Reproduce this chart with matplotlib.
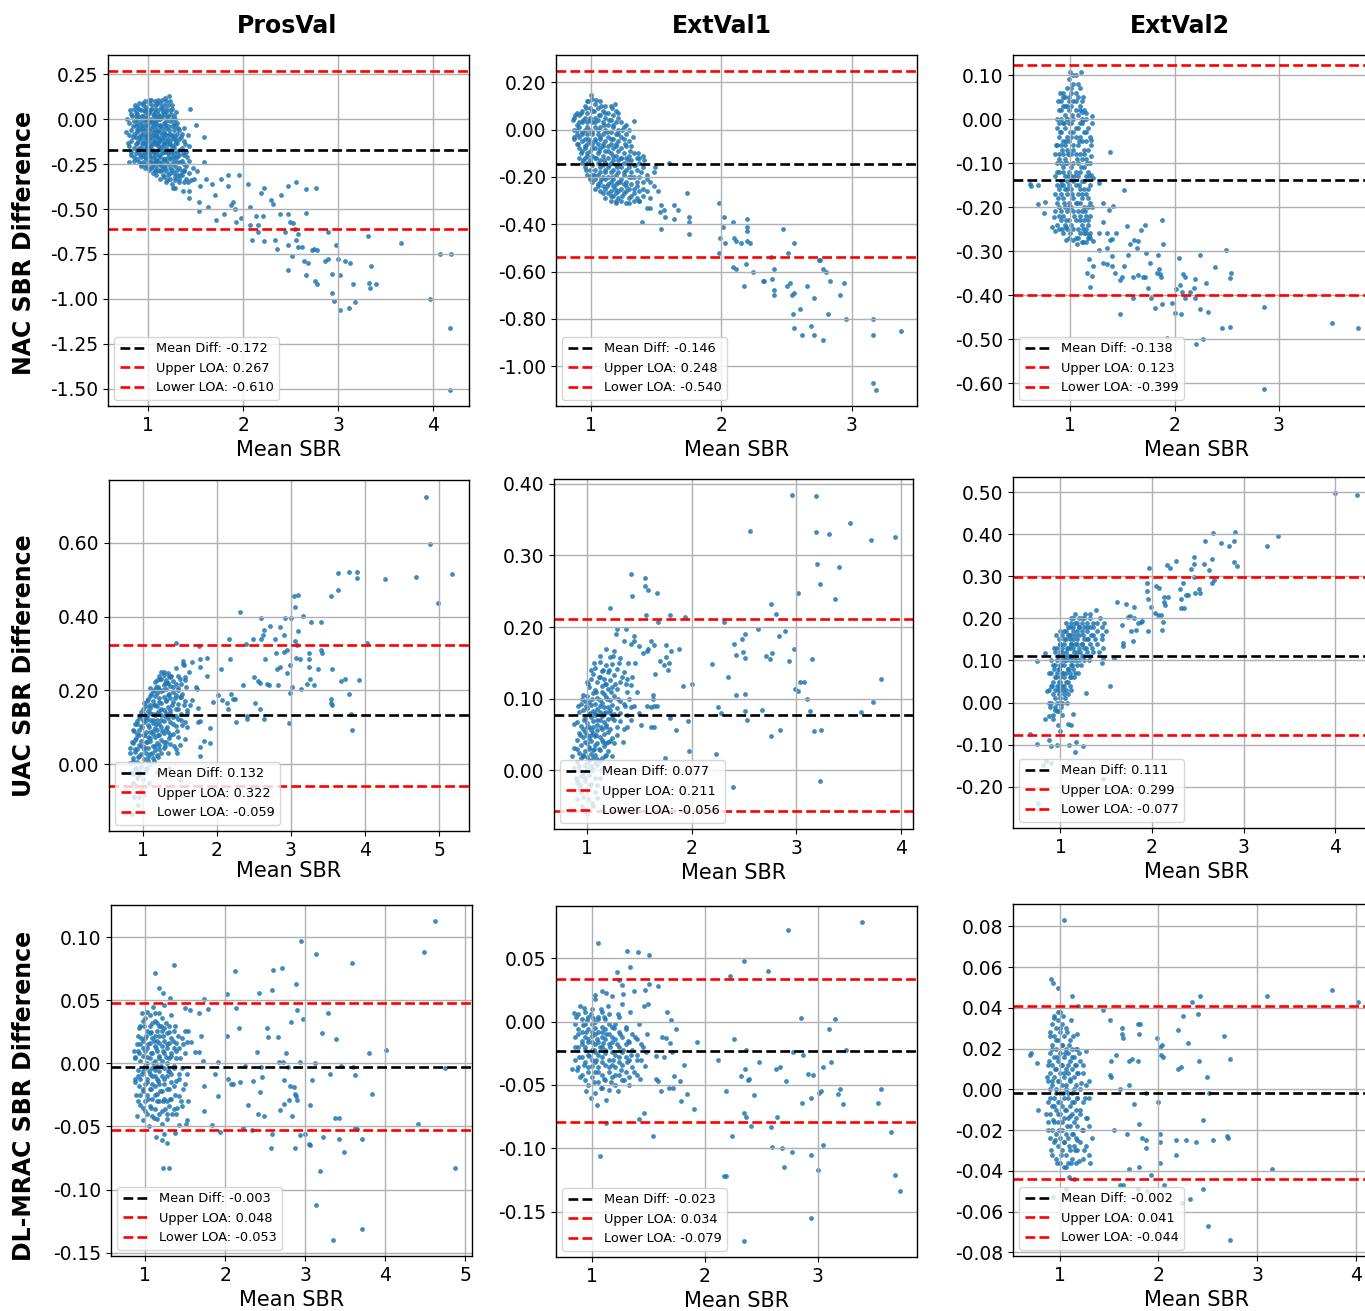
"""
Bland-Altman grid: NAC / UAC / DL-MRAC SBR differences vs mean SBR,
one column per cohort (ProsVal, ExtVal1, ExtVal2).
"""
import matplotlib
matplotlib.use("Agg")
import matplotlib.pyplot as plt
from matplotlib.ticker import FormatStrFormatter

plt.rcParams["axes.unicode_minus"] = False
plt.rcParams["xtick.labelsize"] = 13.5
plt.rcParams["ytick.labelsize"] = 13.5

COLUMNS = ["ProsVal", "ExtVal1", "ExtVal2"]
ROWS = ["NAC SBR Difference", "UAC SBR Difference", "DL-MRAC SBR Difference"]

# (mean diff, upper LOA, lower LOA) per cohort
nac_stats = [(-0.172, 0.267, -0.610), (-0.146, 0.248, -0.540), (-0.138, 0.123, -0.399)]
uac_stats = [(0.132, 0.322, -0.059), (0.077, 0.211, -0.056), (0.111, 0.299, -0.077)]
dl_stats = [(-0.003, 0.048, -0.053), (-0.023, 0.034, -0.079), (-0.002, 0.041, -0.044)]

# dense clusters near SBR ~1, read column by column: (mean SBR, [differences])
nac_prosval_core = [
    (0.80, [-0.02, -0.09, -0.15]), (0.82, [0.03, -0.06, -0.12, -0.20]),
    (0.845, [0.06, -0.01, -0.08, -0.16, -0.23]), (0.865, [0.02, -0.04, -0.10, -0.14, -0.19]),
    (0.885, [0.07, 0.03, -0.02, -0.07, -0.13, -0.17, -0.22]), (0.905, [0.09, 0.01, -0.05, -0.10, -0.18, -0.24]),
    (0.925, [0.05, -0.01, -0.06, -0.11, -0.16, -0.21, -0.26]), (0.945, [0.08, 0.02, -0.03, -0.08, -0.13, -0.20, -0.24]),
    (0.965, [0.10, 0.04, -0.01, -0.06, -0.12, -0.16, -0.21, -0.25]), (0.985, [0.06, 0.01, -0.04, -0.10, -0.15, -0.19, -0.26]),
    (1.005, [0.09, 0.04, -0.02, -0.08, -0.11, -0.16, -0.20, -0.24, -0.28]),
    (1.025, [0.11, 0.06, 0.0, -0.05, -0.10, -0.15, -0.18, -0.23, -0.27]),
    (1.045, [0.03, -0.02, -0.07, -0.12, -0.17, -0.21, -0.25, -0.30]),
    (1.065, [0.10, 0.04, -0.01, -0.06, -0.10, -0.14, -0.20, -0.24, -0.28]),
    (1.085, [0.08, 0.01, -0.04, -0.09, -0.13, -0.18, -0.22, -0.26, -0.31]),
    (1.105, [0.11, 0.05, 0.0, -0.06, -0.10, -0.13, -0.17, -0.23, -0.28]),
    (1.125, [0.09, 0.02, -0.03, -0.07, -0.12, -0.16, -0.21, -0.25, -0.29, -0.33]),
    (1.145, [0.11, 0.06, 0.01, -0.05, -0.11, -0.15, -0.19, -0.24, -0.28]),
    (1.165, [0.08, 0.03, -0.02, -0.07, -0.10, -0.14, -0.18, -0.22, -0.26, -0.32]),
    (1.185, [0.10, 0.04, -0.01, -0.05, -0.12, -0.18, -0.23, -0.29, -0.35]),
    (1.205, [0.08, 0.02, -0.04, -0.09, -0.14, -0.19, -0.25, -0.31]),
    (1.225, [0.10, 0.05, -0.01, -0.08, -0.12, -0.17, -0.22, -0.27, -0.33]),
    (1.245, [0.06, 0.0, -0.04, -0.10, -0.15, -0.21, -0.28, -0.36]),
    (1.265, [0.02, -0.06, -0.11, -0.19, -0.23, -0.30]), (1.285, [0.0, -0.04, -0.10, -0.14, -0.21, -0.26, -0.34]),
    (1.305, [-0.02, -0.08, -0.13, -0.18, -0.24, -0.31]), (1.325, [-0.06, -0.11, -0.20, -0.27, -0.33]),
    (1.35, [-0.08, -0.16, -0.23, -0.31]), (1.375, [-0.12, -0.20, -0.28, -0.35]), (1.40, [-0.18, -0.26]),
    (1.43, [-0.15, -0.23, -0.30]),
]
nac_extval1_core = [
    (0.87, [0.05, 0.0, -0.04]), (0.89, [0.07, 0.02, -0.02, -0.06]), (0.91, [0.06, 0.01, -0.03, -0.08, -0.12]),
    (0.93, [0.08, 0.03, -0.01, -0.05, -0.09, -0.14]), (0.95, [0.10, 0.05, 0.0, -0.04, -0.08, -0.12, -0.16]),
    (0.97, [0.12, 0.07, 0.03, -0.02, -0.06, -0.10, -0.14, -0.19]),
    (0.99, [0.09, 0.04, 0.0, -0.05, -0.09, -0.13, -0.17, -0.20]),
    (1.01, [0.13, 0.08, 0.03, -0.02, -0.06, -0.11, -0.15, -0.19, -0.22]),
    (1.03, [0.11, 0.05, 0.01, -0.04, -0.08, -0.12, -0.17, -0.21, -0.25]),
    (1.05, [0.09, 0.04, -0.02, -0.06, -0.10, -0.14, -0.19, -0.23]),
    (1.07, [0.12, 0.06, 0.01, -0.04, -0.08, -0.13, -0.18, -0.22, -0.26]),
    (1.09, [0.08, 0.03, -0.02, -0.07, -0.11, -0.15, -0.20, -0.24]),
    (1.11, [0.10, 0.05, 0.0, -0.05, -0.09, -0.14, -0.17, -0.21, -0.25, -0.29]),
    (1.13, [0.07, 0.02, -0.03, -0.07, -0.12, -0.16, -0.20, -0.23, -0.27]),
    (1.15, [0.10, 0.04, -0.01, -0.06, -0.10, -0.14, -0.18, -0.22, -0.26, -0.30]),
    (1.17, [0.06, 0.02, -0.04, -0.08, -0.13, -0.17, -0.21, -0.24, -0.28]),
    (1.19, [0.08, 0.03, -0.02, -0.06, -0.11, -0.15, -0.19, -0.23, -0.27, -0.30]),
    (1.21, [0.05, 0.0, -0.05, -0.09, -0.13, -0.18, -0.22, -0.26, -0.29]),
    (1.23, [0.03, -0.03, -0.08, -0.12, -0.16, -0.21, -0.25, -0.30]),
    (1.25, [0.01, -0.04, -0.10, -0.14, -0.19, -0.23, -0.27]),
    (1.27, [-0.02, -0.07, -0.12, -0.17, -0.22, -0.26, -0.31]),
    (1.29, [0.0, -0.05, -0.11, -0.16, -0.20, -0.25, -0.29]), (1.31, [-0.07, -0.13, -0.18, -0.23, -0.28]),
    (1.33, [-0.10, -0.15, -0.20, -0.25, -0.30]), (1.35, [-0.12, -0.17, -0.24, -0.29]),
    (1.37, [-0.14, -0.20, -0.26]), (1.40, [-0.16, -0.22, -0.28]), (1.43, [-0.19, -0.26]),
]
nac_extval2_core = [
    (0.85, [-0.08, -0.13, -0.17, -0.21]), (0.87, [-0.02, -0.06, -0.10, -0.15, -0.19, -0.24]),
    (0.89, [0.02, -0.01, -0.04, -0.08, -0.12, -0.16, -0.20, -0.25]),
    (0.91, [0.04, 0.0, -0.03, -0.06, -0.10, -0.14, -0.17, -0.21, -0.23]),
    (0.93, [0.06, 0.03, -0.01, -0.05, -0.08, -0.11, -0.15, -0.18, -0.22, -0.26]),
    (0.95, [0.05, 0.01, -0.02, -0.06, -0.09, -0.13, -0.16, -0.20, -0.24]),
    (0.97, [0.07, 0.03, 0.0, -0.04, -0.07, -0.10, -0.14, -0.17, -0.21, -0.25]),
    (0.99, [0.09, 0.05, 0.02, -0.01, -0.05, -0.08, -0.12, -0.15, -0.19, -0.23, -0.27]),
    (1.01, [0.06, 0.03, -0.01, -0.04, -0.08, -0.13, -0.16, -0.20, -0.24]),
    (1.03, [0.08, 0.04, 0.0, -0.03, -0.07, -0.10, -0.14, -0.18, -0.21, -0.25]),
    (1.05, [0.10, 0.06, 0.02, -0.04, -0.08, -0.12, -0.15, -0.19, -0.23, -0.27]),
    (1.07, [0.05, 0.01, -0.02, -0.06, -0.10, -0.13, -0.17, -0.21, -0.25]),
    (1.09, [0.07, 0.03, -0.01, -0.04, -0.08, -0.12, -0.16, -0.19, -0.22, -0.26]),
    (1.11, [0.04, 0.0, -0.05, -0.09, -0.14, -0.17, -0.21, -0.24, -0.28]),
    (1.13, [0.02, -0.03, -0.08, -0.11, -0.16, -0.20, -0.23, -0.26]),
    (1.15, [0.0, -0.05, -0.09, -0.13, -0.17, -0.22, -0.25, -0.28]),
    (1.17, [-0.02, -0.07, -0.12, -0.16, -0.20, -0.24, -0.27]),
    (1.19, [-0.04, -0.10, -0.15, -0.19, -0.22, -0.26]),
]
uac_prosval_core = [
    (0.83, [0.004, 0.043]), (0.86, [-0.027, 0.018, 0.057, 0.092]), (0.89, [-0.012, 0.034, 0.066, 0.108]),
    (0.92, [-0.038, 0.006, 0.041, 0.083, 0.117]), (0.95, [-0.019, 0.022, 0.053, 0.094, 0.126]),
    (0.98, [-0.007, 0.028, 0.064, 0.103, 0.141]), (1.01, [0.013, 0.047, 0.078, 0.114, 0.137, 0.166]),
    (1.04, [-0.014, 0.031, 0.059, 0.087, 0.128, 0.158]), (1.07, [0.009, 0.044, 0.073, 0.106, 0.143, 0.176]),
    (1.10, [0.027, 0.062, 0.088, 0.119, 0.153, 0.184, 0.207]),
    (1.13, [0.016, 0.049, 0.083, 0.112, 0.136, 0.172, 0.198]),
    (1.16, [0.038, 0.074, 0.097, 0.133, 0.161, 0.186, 0.224]),
    (1.19, [0.024, 0.057, 0.093, 0.121, 0.157, 0.193, 0.228]),
    (1.22, [0.052, 0.079, 0.108, 0.144, 0.169, 0.203, 0.238]),
    (1.25, [0.066, 0.102, 0.134, 0.166, 0.197, 0.232]),
    (1.28, [0.043, 0.084, 0.117, 0.148, 0.182, 0.214, 0.243]),
    (1.31, [0.061, 0.096, 0.139, 0.173, 0.204, 0.227]), (1.34, [0.087, 0.124, 0.156, 0.188, 0.219, 0.248]),
    (1.37, [0.054, 0.113, 0.147, 0.179, 0.212, 0.236]), (1.40, [0.082, 0.128, 0.168, 0.196, 0.226]),
    (1.44, [0.103, 0.149, 0.187, 0.218]), (1.48, [0.074, 0.122, 0.164, 0.207, 0.239]),
    (1.52, [0.137, 0.182, 0.216]), (1.57, [0.114, 0.171, 0.236]),
]
uac_extval1_core = [
    (0.88, [0.004, 0.031]), (0.90, [-0.017, 0.012, 0.043, 0.068]), (0.92, [-0.026, 0.006, 0.024, 0.053, 0.081]),
    (0.94, [-0.008, 0.017, 0.036, 0.062, 0.093]), (0.96, [-0.037, -0.004, 0.021, 0.047, 0.058, 0.084, 0.106]),
    (0.98, [-0.015, 0.008, 0.027, 0.054, 0.073, 0.097]),
    (1.00, [-0.028, 0.003, 0.019, 0.038, 0.049, 0.066, 0.087, 0.104, 0.123]),
    (1.02, [-0.006, 0.014, 0.033, 0.045, 0.061, 0.079, 0.095, 0.116]),
    (1.04, [-0.019, 0.006, 0.023, 0.041, 0.057, 0.074, 0.091, 0.127]),
    (1.06, [0.002, 0.017, 0.029, 0.052, 0.069, 0.083, 0.108, 0.134]),
    (1.08, [-0.011, 0.021, 0.036, 0.048, 0.077, 0.093, 0.112, 0.143]),
    (1.10, [0.007, 0.016, 0.039, 0.056, 0.064, 0.086, 0.101, 0.124]),
    (1.12, [0.013, 0.028, 0.047, 0.071, 0.082, 0.098, 0.131, 0.152]),
    (1.14, [0.018, 0.043, 0.058, 0.076, 0.094, 0.118, 0.139]),
    (1.16, [0.004, 0.034, 0.051, 0.067, 0.088, 0.107, 0.128]),
    (1.18, [0.022, 0.038, 0.063, 0.081, 0.103, 0.121, 0.147]),
    (1.20, [0.027, 0.054, 0.072, 0.089, 0.114, 0.137]), (1.22, [0.041, 0.058, 0.084, 0.099, 0.126, 0.158]),
    (1.24, [0.046, 0.073, 0.092, 0.117, 0.148]), (1.26, [0.038, 0.079, 0.104, 0.133, 0.166]),
    (1.29, [0.061, 0.087, 0.113, 0.142]), (1.32, [0.069, 0.097, 0.124, 0.157]),
    (1.35, [0.058, 0.093, 0.138]), (1.38, [0.078, 0.109, 0.127]), (1.42, [0.088, 0.119]),
]
uac_extval2_core = [
    (0.90, [0.0, 0.04, 0.07]), (0.92, [-0.03, 0.02, 0.05, 0.09]), (0.94, [-0.01, 0.03, 0.06, 0.09, 0.12]),
    (0.96, [0.0, 0.04, 0.07, 0.10, 0.13]), (0.98, [-0.02, 0.02, 0.05, 0.08, 0.11, 0.15]),
    (1.00, [0.01, 0.03, 0.06, 0.09, 0.12, 0.14]), (1.02, [0.0, 0.04, 0.07, 0.10, 0.13, 0.16]),
    (1.04, [0.02, 0.06, 0.09, 0.11, 0.14, 0.17]), (1.06, [0.03, 0.07, 0.10, 0.12, 0.15, 0.17]),
    (1.08, [0.05, 0.08, 0.11, 0.13, 0.16, 0.18]), (1.10, [0.04, 0.07, 0.10, 0.13, 0.15, 0.18]),
    (1.12, [0.06, 0.09, 0.11, 0.14, 0.16, 0.19]), (1.14, [0.08, 0.10, 0.13, 0.15, 0.18, 0.20]),
    (1.16, [0.07, 0.11, 0.14, 0.16, 0.19]), (1.18, [0.09, 0.12, 0.14, 0.17, 0.19]),
    (1.20, [0.10, 0.13, 0.16, 0.18, 0.20]), (1.23, [0.11, 0.14, 0.17, 0.19]),
    (1.26, [0.10, 0.13, 0.15, 0.18, 0.20]), (1.29, [0.12, 0.15, 0.17, 0.19]),
    (1.32, [0.11, 0.14, 0.18, 0.21]), (1.36, [0.12, 0.16, 0.18]), (1.40, [0.14, 0.19]), (1.45, [0.15, 0.18]),
]
dl_prosval_core = [
    (0.88, [-0.015, 0.005]), (0.91, [-0.030, -0.010, 0.010, 0.022]),
    (0.94, [-0.025, -0.012, 0.002, 0.015, 0.030]), (0.97, [-0.035, -0.020, -0.006, 0.006, 0.018, 0.034]),
    (1.00, [-0.030, -0.016, -0.004, 0.010, 0.020, 0.036]), (1.03, [-0.040, -0.025, -0.012, 0.000, 0.012, 0.026]),
    (1.06, [-0.034, -0.020, -0.008, 0.004, 0.016, 0.024, 0.038]),
    (1.09, [-0.042, -0.028, -0.016, -0.004, 0.008, 0.020, 0.032]),
    (1.12, [-0.036, -0.018, -0.010, 0.002, 0.014, 0.022, 0.040]),
    (1.15, [-0.044, -0.024, -0.012, -0.002, 0.010, 0.018, 0.032]),
    (1.18, [-0.030, -0.016, -0.006, 0.006, 0.022, 0.030]),
    (1.21, [-0.038, -0.022, -0.010, 0.002, 0.014, 0.026, 0.036]),
    (1.24, [-0.028, -0.016, -0.004, 0.008, 0.018, 0.028]), (1.27, [-0.040, -0.030, -0.010, 0.000, 0.012, 0.024]),
    (1.30, [-0.034, -0.020, -0.006, 0.004, 0.016, 0.030]), (1.33, [-0.028, -0.008, 0.006, 0.020]),
    (1.36, [-0.036, -0.018, -0.002, 0.012, 0.026]), (1.39, [-0.040, -0.014, 0.004, 0.016]),
    (1.42, [-0.026, -0.008, 0.012]), (1.46, [-0.034, -0.004, 0.020]), (1.50, [-0.016, 0.008]),
]
dl_extval1_core = [
    (0.85, [-0.030, -0.012, -0.002]), (0.88, [-0.036, -0.020, -0.006, 0.006]),
    (0.91, [-0.042, -0.028, -0.018, -0.008, 0.002]), (0.94, [-0.046, -0.032, -0.020, -0.012, -0.002, 0.008]),
    (0.97, [-0.050, -0.036, -0.026, -0.014, -0.006, 0.004]),
    (1.00, [-0.044, -0.030, -0.022, -0.016, -0.008, -0.002, 0.010]),
    (1.03, [-0.056, -0.040, -0.032, -0.024, -0.018, -0.010, 0.000]),
    (1.06, [-0.048, -0.036, -0.026, -0.016, -0.008, 0.004]),
    (1.09, [-0.052, -0.042, -0.028, -0.020, -0.012, -0.004, 0.008]),
    (1.12, [-0.046, -0.034, -0.022, -0.014, -0.006, 0.002]),
    (1.15, [-0.054, -0.040, -0.030, -0.018, -0.010, 0.006]),
    (1.18, [-0.044, -0.034, -0.024, -0.016, -0.004]), (1.21, [-0.050, -0.036, -0.026, -0.014, -0.002]),
    (1.24, [-0.042, -0.032, -0.020, -0.008, 0.004]), (1.27, [-0.046, -0.034, -0.024, -0.012]),
    (1.30, [-0.040, -0.028, -0.018, -0.006]), (1.33, [-0.044, -0.030, -0.016]),
    (1.36, [-0.036, -0.022, -0.010]), (1.40, [-0.042, -0.026, -0.014]), (1.44, [-0.030, -0.018]),
    (1.48, [-0.024]),
]
dl_extval2_core = [
    (0.88, [-0.016, -0.006, 0.004, 0.012]), (0.90, [-0.024, -0.012, 0.000, 0.008, 0.018, 0.026]),
    (0.92, [-0.032, -0.020, -0.008, 0.004, 0.012, 0.022, 0.032]),
    (0.94, [-0.026, -0.016, -0.004, 0.006, 0.016, 0.026, 0.036]),
    (0.96, [-0.034, -0.022, -0.010, 0.000, 0.010, 0.020, 0.030]),
    (0.98, [-0.028, -0.016, -0.006, 0.004, 0.014, 0.024, 0.034]),
    (1.00, [-0.036, -0.024, -0.012, -0.002, 0.008, 0.018, 0.028, 0.038]),
    (1.02, [-0.030, -0.020, -0.008, 0.002, 0.012, 0.022, 0.032]),
    (1.04, [-0.038, -0.026, -0.014, -0.004, 0.006, 0.016, 0.026]),
    (1.06, [-0.032, -0.022, -0.010, 0.000, 0.010, 0.020, 0.030]),
    (1.08, [-0.036, -0.024, -0.014, -0.002, 0.008, 0.018]),
    (1.10, [-0.030, -0.018, -0.008, 0.004, 0.014, 0.024]),
    (1.12, [-0.034, -0.022, -0.012, -0.002, 0.010, 0.020]), (1.14, [-0.028, -0.016, -0.006, 0.006, 0.016]),
    (1.16, [-0.036, -0.024, -0.010, 0.002, 0.012]), (1.18, [-0.030, -0.018, -0.004, 0.008, 0.020]),
    (1.21, [-0.026, -0.012, 0.000, 0.014]), (1.24, [-0.034, -0.020, -0.006, 0.008]),
    (1.27, [-0.028, -0.014, 0.002]), (1.30, [-0.032, -0.018, -0.004]),
]

# individual (mean SBR, difference) points
nac_prosval = [
    (0.76, -0.07), (0.78, 0.0), (0.79, -0.13), (0.80, -0.24), (0.81, 0.05), (0.82, -0.18), (0.83, 0.02),
    (0.84, -0.04), (0.84, -0.10), (0.85, -0.21), (0.86, 0.08), (0.87, 0.04), (0.88, 0.0), (0.88, -0.06),
    (0.89, -0.12), (0.90, -0.16), (0.90, 0.06), (0.91, -0.03), (0.91, -0.20), (0.92, -0.09), (0.92, -0.25),
    (0.93, 0.02), (0.93, -0.14), (0.94, 0.09), (0.94, -0.05), (0.95, -0.18), (0.95, 0.05), (0.96, -0.10),
    (0.96, -0.27), (0.97, 0.0), (0.97, -0.14), (0.98, 0.07), (0.98, -0.22), (0.99, -0.03), (0.99, -0.08),
    (1.0, 0.03), (1.0, -0.17), (1.0, -0.12), (1.01, 0.11), (1.01, -0.06), (1.02, -0.21), (1.02, 0.05),
    (1.03, -0.01), (1.03, -0.14), (1.04, 0.08), (1.04, -0.26), (1.05, -0.09), (1.05, -0.04), (1.06, 0.02),
    (1.06, -0.18), (1.07, -0.12), (1.07, 0.06), (1.08, -0.23), (1.08, -0.02), (1.08, -0.29), (1.09, 0.09),
    (1.09, -0.07), (1.10, -0.15), (1.10, 0.03), (1.11, -0.20), (1.11, -0.11), (1.12, 0.0), (1.12, -0.04),
    (1.13, -0.26), (1.13, 0.07), (1.14, -0.17), (1.14, -0.09), (1.15, -0.31), (1.15, 0.04), (1.16, -0.13),
    (1.16, -0.22), (1.17, 0.12), (1.17, -0.03), (1.18, -0.08), (1.18, -0.27), (1.19, 0.06), (1.19, -0.16),
    (1.20, -0.34), (1.20, 0.01), (1.21, -0.11), (1.21, -0.21), (1.22, 0.13), (1.22, -0.06), (1.23, -0.30),
    (1.23, -0.14), (1.24, 0.03), (1.24, -0.19), (1.25, 0.08), (1.25, -0.25), (1.26, -0.09), (1.26, -0.38),
    (1.27, -0.02), (1.27, -0.16), (1.28, -0.32), (1.29, -0.12), (1.29, 0.04), (1.30, -0.21), (1.30, -0.28),
    (1.31, -0.05), (1.32, -0.35), (1.32, -0.17), (1.33, -0.24), (1.34, -0.10), (1.35, -0.29), (1.36, -0.19),
    (1.37, -0.05), (1.38, -0.25), (1.39, -0.14), (1.40, -0.33), (1.41, -0.21), (1.42, -0.09), (1.33, -0.31),
    (1.38, -0.29), (1.28, -0.38), (1.36, -0.40), (1.42, -0.35), (1.48, -0.33), (1.47, -0.27),
    (1.435, 0.06), (1.505, -0.03), (1.59, -0.10), (1.59, -0.24), (1.51, -0.29), (1.45, -0.34), (1.61, -0.33),
    (1.54, -0.37), (1.43, -0.40), (1.43, -0.44), (1.53, -0.46), (1.53, -0.51), (1.63, -0.49), (1.67, -0.36),
    (1.70, -0.42), (1.76, -0.33), (1.71, -0.56), (1.80, -0.53), (1.84, -0.31), (1.84, -0.37), (1.87, -0.48),
    (1.89, -0.46), (1.91, -0.50), (1.92, -0.57), (1.95, -0.31), (1.98, -0.55), (2.05, -0.36), (2.07, -0.49),
    (2.07, -0.59), (2.09, -0.67), (2.13, -0.54), (2.15, -0.59), (2.15, -0.63), (2.19, -0.41), (2.21, -0.54),
    (2.22, -0.38), (2.22, -0.68), (2.29, -0.45), (2.31, -0.47), (2.33, -0.67), (2.35, -0.72), (2.40, -0.42),
    (2.39, -0.53), (2.44, -0.63), (2.47, -0.37), (2.47, -0.53), (2.47, -0.70), (2.49, -0.57), (2.51, -0.76),
    (2.52, -0.58), (2.54, -0.61), (2.55, -0.35), (2.55, -0.67), (2.57, -0.71), (2.58, -0.64), (2.62, -0.71),
    (2.64, -0.79), (2.66, -0.39), (2.66, -0.52), (2.66, -0.87), (2.68, -0.80), (2.72, -0.73), (2.74, -0.72),
    (2.75, -0.90), (2.76, -0.38), (2.77, -0.73), (2.77, -0.92), (2.47, -0.84), (2.86, -0.79), (2.89, -0.78),
    (2.89, -0.63), (2.93, -0.97), (2.93, -0.86), (2.95, -1.01), (2.97, -0.70), (3.00, -0.78), (3.02, -0.87),
    (3.02, -1.06), (3.07, -0.79), (3.11, -1.05), (3.12, -0.80), (3.15, -0.92), (3.18, -1.02), (3.31, -0.65),
    (3.32, -0.91), (3.33, -0.94), (3.34, -0.82), (3.40, -0.92), (3.66, -0.69), (3.96, -1.00), (4.07, -0.75),
    (4.19, -0.75), (4.18, -1.16), (4.17, -1.51),
]
nac_extval1 = [
    (0.86, 0.04), (0.87, -0.03), (0.88, 0.06), (0.89, 0.0), (0.90, -0.06), (0.91, 0.03), (0.92, -0.10),
    (0.92, 0.07), (0.93, -0.02), (0.94, -0.13), (0.94, 0.04), (0.95, -0.07), (0.96, 0.09), (0.96, -0.17),
    (0.97, 0.01), (0.97, -0.11), (0.98, 0.12), (0.98, -0.04), (0.99, -0.21), (0.99, 0.05), (1.00, -0.14),
    (1.00, 0.146), (1.01, -0.01), (1.01, -0.08), (1.02, 0.08), (1.02, -0.19), (1.03, -0.05), (1.03, 0.03),
    (1.04, 0.125), (1.04, -0.12), (1.05, -0.24), (1.05, 0.0), (1.06, -0.09), (1.06, 0.06), (1.07, -0.16),
    (1.07, -0.03), (1.08, 0.10), (1.08, -0.21), (1.09, -0.27), (1.09, -0.06), (1.10, 0.02), (1.10, -0.13),
    (1.11, 0.07), (1.11, -0.18), (1.12, -0.01), (1.12, -0.24), (1.13, -0.09), (1.14, 0.04), (1.14, -0.15),
    (1.15, -0.28), (1.15, -0.04), (1.16, 0.09), (1.16, -0.20), (1.17, -0.11), (1.17, 0.01), (1.18, 0.11),
    (1.18, -0.25), (1.19, -0.07), (1.19, -0.31), (1.20, -0.16), (1.21, 0.07), (1.21, -0.02), (1.22, -0.22),
    (1.23, -0.12), (1.24, 0.0), (1.24, -0.28), (1.25, -0.18), (1.26, -0.06), (1.27, 0.02), (1.27, -0.24),
    (1.28, -0.13), (1.29, -0.31), (1.30, -0.09), (1.31, -0.20), (1.32, -0.03), (1.33, -0.27), (1.33, 0.035),
    (1.34, -0.15), (1.35, -0.22), (1.36, -0.10), (1.37, -0.30), (1.38, -0.18), (1.40, -0.25), (1.41, -0.13),
    (1.43, -0.21), (1.45, -0.29), (1.39, -0.39), (1.37, -0.12), (1.40, -0.11), (1.48, -0.18), (1.49, -0.16),
    (1.45, -0.22), (1.48, -0.24), (1.51, -0.26), (1.60, -0.14), (1.54, -0.32), (1.56, -0.34), (1.53, -0.35),
    (1.57, -0.37), (1.54, -0.42), (1.64, -0.32), (1.64, -0.38), (1.67, -0.34), (1.74, -0.27), (1.75, -0.37),
    (1.75, -0.39), (1.75, -0.44), (1.43, -0.33), (1.45, -0.33), (1.37, -0.30), (1.98, -0.31), (1.99, -0.46),
    (1.98, -0.52), (2.02, -0.37), (2.01, -0.41), (2.03, -0.48), (2.09, -0.39), (2.10, -0.46), (2.11, -0.47),
    (2.09, -0.58), (2.11, -0.59), (2.15, -0.48), (2.17, -0.66), (2.19, -0.57), (2.20, -0.38), (2.20, -0.41),
    (2.20, -0.43), (2.20, -0.47), (2.22, -0.48), (2.24, -0.60), (2.32, -0.64), (2.33, -0.64), (2.38, -0.54),
    (2.39, -0.63), (2.40, -0.59), (2.40, -0.68), (2.40, -0.70), (2.47, -0.42), (2.50, -0.66), (2.51, -0.52),
    (2.53, -0.65), (2.54, -0.70), (2.55, -0.78), (2.56, -0.69), (2.56, -0.48), (2.56, -0.84), (2.60, -0.76),
    (2.62, -0.87), (2.66, -0.66), (2.69, -0.83), (2.71, -0.71), (2.71, -0.87), (2.75, -0.55), (2.76, -0.55),
    (2.78, -0.59), (2.78, -0.89), (2.80, -0.60), (2.82, -0.78), (2.83, -0.64), (2.91, -0.70), (2.94, -0.65),
    (2.96, -0.80), (3.16, -0.80), (3.16, -0.87), (3.16, -1.07), (3.19, -1.10), (3.38, -0.85),
]
nac_extval2 = [
    (0.86, -0.06), (0.87, -0.12), (0.87, 0.0), (0.88, -0.18), (0.88, 0.04), (0.89, -0.09), (0.89, -0.22),
    (0.90, 0.06), (0.90, -0.03), (0.91, -0.15), (0.91, 0.02), (0.92, -0.25), (0.92, -0.07), (0.93, 0.05),
    (0.93, -0.12), (0.94, -0.19), (0.94, -0.01), (0.95, 0.03), (0.95, -0.10), (0.96, -0.23), (0.96, -0.05),
    (0.97, 0.0), (0.97, -0.16), (0.98, -0.08), (0.98, -0.13), (0.99, 0.04), (0.99, -0.20), (1.0, -0.03),
    (1.0, 0.107), (1.0, -0.26), (1.01, -0.11), (1.01, 0.07), (1.02, -0.17), (1.02, 0.01), (1.03, -0.06),
    (1.03, 0.10), (1.04, -0.22), (1.04, -0.13), (1.05, 0.04), (1.05, -0.02), (1.06, -0.09), (1.06, -0.19),
    (1.07, 0.08), (1.07, -0.27), (1.08, -0.05), (1.08, -0.15), (1.09, 0.02), (1.09, -0.23), (1.10, 0.107),
    (1.10, -0.11), (1.11, -0.01), (1.11, -0.18), (1.12, 0.05), (1.12, -0.25), (1.13, -0.07), (1.13, -0.14),
    (1.14, -0.21), (1.15, -0.03), (1.15, -0.26), (1.16, -0.10), (1.17, -0.18), (1.17, -0.23), (1.18, -0.13),
    (1.19, -0.27), (1.20, -0.06), (1.21, -0.20), (1.11, 0.017), (1.15, 0.014), (1.12, -0.002), (1.21, -0.01),
    (1.20, -0.048), (1.20, -0.085), (1.20, -0.127), (1.22, -0.134), (1.205, 0.008), (1.38, -0.074),
    (0.61, -0.147), (0.62, -0.153), (0.69, -0.151), (0.69, -0.192), (0.75, -0.214), (0.76, -0.189),
    (0.84, -0.223), (0.85, -0.255), (0.82, -0.246), (0.96, -0.274), (0.96, -0.246), (1.03, -0.274),
    (1.06, -0.285), (1.12, -0.28), (1.18, -0.266), (1.22, -0.278), (1.18, -0.319), (1.16, -0.349),
    (1.19, -0.381), (1.22, -0.334), (1.21, -0.357), (1.275, -0.146), (1.31, -0.19), (1.31, -0.234),
    (1.28, -0.298), (1.28, -0.259), (1.31, -0.328), (1.35, -0.293), (1.35, -0.33), (1.37, -0.206),
    (1.41, -0.198), (1.355, -0.259), (1.38, -0.274), (1.40, -0.272), (1.40, -0.334), (1.40, -0.312),
    (1.43, -0.349), (1.44, -0.259), (1.48, -0.444), (1.48, -0.365), (1.50, -0.358), (1.52, -0.161),
    (1.54, -0.244), (1.52, -0.334), (1.55, -0.308), (1.57, -0.283), (1.60, -0.358), (1.60, -0.406),
    (1.61, -0.274), (1.64, -0.293), (1.65, -0.276), (1.65, -0.355), (1.68, -0.251), (1.70, -0.359),
    (1.72, -0.359), (1.72, -0.240), (1.73, -0.304), (1.75, -0.383), (1.76, -0.327), (1.77, -0.406),
    (1.81, -0.429), (1.83, -0.349), (1.84, -0.308), (1.85, -0.341), (1.86, -0.352), (1.87, -0.358),
    (1.88, -0.421), (1.88, -0.229), (1.89, -0.285), (1.93, -0.497), (1.98, -0.417), (2.00, -0.440),
    (2.01, -0.387), (2.04, -0.315), (2.05, -0.378), (2.06, -0.443), (2.07, -0.393), (2.08, -0.352),
    (2.10, -0.358), (2.10, -0.406), (2.15, -0.393), (2.19, -0.383), (2.20, -0.406), (2.20, -0.363),
    (2.21, -0.512), (2.24, -0.431), (2.24, -0.309), (2.27, -0.500), (2.30, -0.373), (2.32, -0.438),
    (2.39, -0.336), (2.46, -0.475), (2.49, -0.298), (2.53, -0.472), (2.53, -0.361), (2.54, -0.349),
    (2.86, -0.427), (2.86, -0.614), (3.51, -0.464), (3.76, -0.474),
]
uac_prosval = [
    (0.82, 0.03), (0.84, -0.02), (0.85, 0.06), (0.86, 0.01), (0.87, -0.05), (0.88, 0.09), (0.89, 0.04),
    (0.90, -0.01), (0.91, 0.07), (0.92, 0.11), (0.93, 0.02), (0.94, -0.03), (0.95, 0.08), (0.96, 0.13),
    (0.97, 0.05), (0.98, 0.0), (0.99, 0.10), (1.0, 0.15), (1.01, 0.04), (1.02, 0.08), (1.03, -0.02),
    (1.04, 0.12), (1.05, 0.06), (1.06, 0.17), (1.07, 0.02), (1.08, 0.10), (1.09, 0.14), (1.10, 0.07),
    (1.11, 0.19), (1.12, 0.03), (1.13, 0.12), (1.14, 0.09), (1.15, 0.16), (1.16, 0.05), (1.17, 0.21),
    (1.18, 0.11), (1.19, 0.14), (1.20, 0.08), (1.21, 0.18), (1.22, 0.04), (1.23, 0.23), (1.24, 0.12),
    (1.25, 0.15), (1.26, 0.09), (1.27, 0.20), (1.28, 0.06), (1.29, 0.25), (1.30, 0.13), (1.31, 0.17),
    (1.32, 0.10), (1.33, 0.22), (1.34, 0.03), (1.35, 0.19), (1.36, 0.14), (1.37, 0.08), (1.38, 0.24),
    (1.39, 0.16), (1.40, 0.11), (1.41, 0.21), (1.42, 0.05), (1.43, 0.18), (1.44, 0.13), (1.45, 0.26),
    (1.46, 0.09), (1.47, 0.20), (1.48, 0.15), (1.50, 0.23), (1.52, 0.12), (1.53, 0.19), (1.55, 0.27),
    (1.56, 0.16), (1.58, 0.21), (1.60, 0.14), (0.90, -0.06), (0.95, -0.09), (1.0, -0.04), (1.05, -0.01),
    (1.10, 0.0), (1.15, 0.01), (0.88, -0.09), (1.08, -0.05), (1.20, 0.02), (1.25, 0.03), (1.30, 0.05),
    (1.35, 0.07), (1.45, 0.04), (1.0, 0.12), (1.05, 0.13), (1.10, 0.16), (1.15, 0.20), (1.20, 0.21),
    (1.25, 0.25), (1.30, 0.22), (1.35, 0.24), (0.97, -0.07), (0.93, -0.11), (1.02, -0.08), (0.85, -0.135),
    (0.94, -0.02), (1.19, -0.02), (1.35, -0.011), (1.50, -0.042), (1.45, 0.329), (1.54, 0.271),
    (1.54, 0.279), (1.66, 0.277), (1.76, 0.32), (1.77, 0.286), (1.77, 0.264), (1.86, 0.288), (1.87, 0.239),
    (1.73, 0.203), (1.75, 0.151), (1.77, 0.118), (1.75, 0.114), (1.77, 0.046), (1.77, 0.021), (1.82, 0.064),
    (1.90, 0.099), (1.91, 0.057), (1.95, 0.169), (2.01, 0.187), (2.05, 0.258), (2.07, 0.174), (2.14, 0.165),
    (2.15, 0.149), (2.16, 0.339), (2.17, 0.286), (2.19, 0.19), (2.21, 0.176), (2.24, 0.176), (2.26, 0.114),
    (2.31, 0.413), (2.35, 0.214), (2.39, 0.327), (2.41, 0.131), (2.41, 0.122), (2.49, 0.339), (2.50, 0.237),
    (2.51, 0.165), (2.56, 0.226), (2.58, 0.221), (2.58, 0.149), (2.59, 0.339), (2.59, 0.395), (2.62, 0.351),
    (2.63, 0.122), (2.63, 0.363), (2.65, 0.286), (2.68, 0.216), (2.70, 0.214), (2.72, 0.375), (2.79, 0.339),
    (2.80, 0.30), (2.81, 0.257), (2.82, 0.214), (2.85, 0.372), (2.85, 0.264), (2.90, 0.35), (2.91, 0.305),
    (2.92, 0.397), (2.94, 0.31), (2.95, 0.248), (2.97, 0.111), (2.98, 0.194), (2.99, 0.268), (3.00, 0.397),
    (3.01, 0.208), (3.04, 0.455), (3.05, 0.334), (3.06, 0.427), (3.08, 0.322), (3.07, 0.288), (3.09, 0.36),
    (3.10, 0.458), (3.12, 0.286), (3.14, 0.205), (3.16, 0.402), (3.21, 0.216), (3.24, 0.264), (3.24, 0.284),
    (3.24, 0.302), (3.25, 0.232), (3.27, 0.386), (3.31, 0.214), (3.36, 0.257), (3.40, 0.386), (3.41, 0.309),
    (3.42, 0.302), (3.55, 0.258), (3.54, 0.455), (3.54, 0.165), (3.55, 0.16), (3.54, 0.176), (3.63, 0.473),
    (3.64, 0.518), (3.67, 0.226), (3.73, 0.231), (3.78, 0.189), (3.79, 0.521), (3.81, 0.135), (3.82, 0.093),
    (3.89, 0.521), (3.89, 0.505), (3.92, 0.228), (4.03, 0.329), (4.27, 0.501), (4.69, 0.507), (4.82, 0.725),
    (4.88, 0.597), (4.98, 0.438), (5.18, 0.514), (1.57, 0.068), (1.60, 0.10), (1.59, 0.147), (1.64, 0.16),
    (1.66, 0.174), (1.71, 0.21), (1.50, 0.052), (1.46, 0.03), (1.53, 0.106), (1.50, 0.183), (1.57, 0.228),
    (1.62, 0.25),
]
uac_extval1 = [
    (0.86, 0.02), (0.88, 0.065), (0.89, -0.01), (0.90, 0.03), (0.91, 0.09), (0.92, 0.0), (0.93, 0.05),
    (0.94, -0.03), (0.95, 0.10), (0.96, 0.02), (0.97, 0.07), (0.98, -0.01), (0.98, 0.04), (0.99, 0.09),
    (1.0, 0.01), (1.0, 0.06), (1.01, 0.12), (1.01, -0.04), (1.02, 0.03), (1.03, 0.08), (1.03, -0.02),
    (1.04, 0.05), (1.04, 0.14), (1.05, 0.0), (1.05, 0.10), (1.06, 0.06), (1.06, -0.05), (1.07, 0.03),
    (1.07, 0.15), (1.08, 0.08), (1.08, 0.01), (1.09, 0.11), (1.09, 0.05), (1.10, -0.02), (1.10, 0.07),
    (1.11, 0.13), (1.11, 0.03), (1.12, 0.09), (1.12, 0.16), (1.13, 0.0), (1.13, 0.06), (1.14, 0.11),
    (1.15, 0.04), (1.15, 0.14), (1.16, 0.08), (1.17, 0.02), (1.17, 0.12), (1.18, 0.06), (1.18, 0.17),
    (1.19, 0.10), (1.20, 0.04), (1.21, 0.14), (1.22, 0.08), (1.23, 0.11), (1.24, 0.02), (1.25, 0.16),
    (1.26, 0.07), (1.27, 0.12), (1.28, 0.19), (1.29, 0.05), (1.30, 0.10), (1.31, 0.15), (1.32, 0.08),
    (1.33, 0.13), (1.34, 0.04), (1.35, 0.18), (1.36, 0.09), (1.37, 0.12), (1.38, 0.06), (1.39, 0.15),
    (1.40, 0.10), (1.42, 0.07), (1.43, 0.13), (1.45, 0.09), (1.46, 0.15), (1.48, 0.11), (1.50, 0.08),
    (0.90, -0.04), (0.95, -0.05), (1.0, -0.06), (0.93, -0.02), (1.08, -0.03), (1.12, -0.01), (0.97, -0.055),
    (0.99, -0.058), (1.10, -0.039), (0.94, -0.027), (1.05, -0.046), (0.90, -0.013), (1.22, 0.227),
    (1.42, 0.274), (1.43, 0.243), (1.55, 0.269), (1.55, 0.257), (1.58, 0.252), (1.67, 0.248), (1.56, 0.217),
    (1.68, 0.207), (1.79, 0.217), (1.94, 0.214), (1.29, 0.197), (1.37, 0.198), (1.45, 0.188), (1.42, 0.177),
    (1.45, 0.181), (1.50, 0.173), (1.54, 0.164), (1.57, 0.167), (1.58, 0.169), (1.61, 0.180), (1.64, 0.175),
    (1.70, 0.153), (1.76, 0.175), (1.76, 0.159), (1.78, 0.150), (1.77, 0.140), (1.80, 0.167), (1.88, 0.169),
    (1.74, 0.147), (1.65, 0.134), (1.92, 0.118), (2.00, 0.121), (1.63, 0.106), (1.63, 0.100), (1.57, 0.090),
    (1.61, 0.089), (1.64, 0.090), (1.67, 0.090), (1.52, 0.063), (1.61, 0.061), (1.64, 0.06), (1.79, 0.073),
    (1.85, 0.057), (1.97, 0.069), (1.75, 0.018), (1.98, 0.027), (2.20, 0.149), (2.25, 0.089), (2.23, 0.023),
    (2.28, 0.08), (2.31, 0.207), (2.35, 0.131), (2.40, -0.023), (2.41, 0.176), (2.43, 0.161), (2.43, 0.106),
    (2.48, 0.183), (2.49, 0.165), (2.51, 0.190), (2.51, 0.157), (2.51, 0.107), (2.51, 0.083), (2.53, 0.070),
    (2.56, 0.334), (2.64, 0.197), (2.67, 0.084), (2.71, 0.160), (2.75, 0.155), (2.76, 0.232), (2.76, 0.048),
    (2.77, 0.164), (2.81, 0.218), (2.85, 0.056), (2.84, 0.187), (2.89, 0.194), (2.93, 0.153), (2.96, 0.384),
    (2.98, 0.169), (2.99, 0.114), (3.02, 0.248), (3.02, 0.111), (3.04, 0.124), (3.08, 0.124), (3.10, 0.100),
    (3.13, 0.083), (3.15, 0.156), (3.17, 0.055), (3.19, 0.383), (3.19, 0.333), (3.20, 0.288), (3.23, 0.260),
    (3.23, -0.015), (3.24, 0.057), (3.32, 0.33), (3.41, 0.284), (3.37, 0.239), (3.52, 0.345), (3.62, 0.081),
    (3.72, 0.321), (3.74, 0.095), (3.81, 0.128), (3.95, 0.326),
]
uac_extval2 = [
    (0.87, 0.03), (0.88, 0.07), (0.89, -0.01), (0.90, 0.10), (0.91, 0.04), (0.92, -0.04), (0.93, 0.08),
    (0.93, 0.13), (0.94, 0.01), (0.95, 0.06), (0.95, 0.16), (0.96, -0.02), (0.97, 0.11), (0.97, 0.03),
    (0.98, 0.08), (0.99, 0.14), (0.99, 0.0), (1.0, 0.05), (1.0, 0.17), (1.01, 0.09), (1.02, -0.03),
    (1.02, 0.12), (1.03, 0.03), (1.03, 0.07), (1.04, 0.15), (1.05, 0.01), (1.05, 0.10), (1.06, 0.19),
    (1.06, 0.05), (1.07, 0.13), (1.08, 0.08), (1.08, 0.02), (1.09, 0.16), (1.10, 0.11), (1.10, 0.06),
    (1.11, 0.20), (1.12, 0.03), (1.12, 0.14), (1.13, 0.09), (1.14, 0.17), (1.15, 0.06), (1.15, 0.12),
    (1.16, 0.21), (1.17, 0.10), (1.18, 0.15), (1.19, 0.07), (1.20, 0.18), (1.21, 0.12), (1.22, 0.09),
    (1.23, 0.20), (1.24, 0.14), (1.25, 0.16), (1.26, 0.11), (1.27, 0.21), (1.28, 0.13), (1.29, 0.18),
    (1.30, 0.15), (1.31, 0.10), (1.32, 0.20), (1.33, 0.16), (1.35, 0.13), (1.36, 0.19), (1.38, 0.15),
    (1.39, 0.22), (1.40, 0.17), (1.42, 0.12), (1.43, 0.20), (1.45, 0.16), (1.47, 0.13), (1.48, 0.19),
    (1.50, 0.17), (0.98, 0.04), (1.04, 0.04), (1.01, -0.01), (1.07, 0.0), (0.665, -0.074), (0.74, -0.098),
    (0.83, -0.04), (0.88, -0.09), (0.90, -0.103), (0.96, -0.10), (0.84, -0.139), (0.90, -0.144),
    (0.81, -0.148), (0.75, -0.239), (0.77, -0.255), (1.47, -0.181), (1.09, -0.10), (1.16, -0.118),
    (1.17, -0.093), (1.25, -0.103), (0.99, -0.067), (1.08, -0.051), (1.11, -0.053), (1.14, -0.028),
    (0.94, -0.017), (0.97, -0.053), (0.87, -0.033), (0.88, -0.002), (0.85, 0.028), (0.74, 0.099),
    (0.83, 0.117), (1.28, 0.022), (1.54, 0.04), (1.45, 0.095), (1.47, 0.107), (1.59, 0.107), (1.62, 0.24),
    (1.67, 0.184), (1.68, 0.141), (1.68, 0.135), (1.72, 0.234), (1.74, 0.203), (1.76, 0.206), (1.77, 0.169),
    (1.79, 0.147), (1.80, 0.226), (1.80, 0.20), (1.83, 0.173), (1.85, 0.19), (1.88, 0.192), (1.89, 0.194),
    (1.96, 0.169), (1.97, 0.319), (1.95, 0.285), (1.94, 0.266), (1.96, 0.245), (1.99, 0.228), (2.03, 0.214),
    (2.04, 0.276), (2.07, 0.207), (2.08, 0.272), (2.10, 0.208), (2.11, 0.173), (2.12, 0.192), (2.13, 0.240),
    (2.13, 0.25), (2.14, 0.232), (2.16, 0.327), (2.17, 0.25), (2.20, 0.319), (2.26, 0.336), (2.31, 0.269),
    (2.32, 0.245), (2.32, 0.224), (2.34, 0.285), (2.35, 0.224), (2.37, 0.256), (2.39, 0.256), (2.42, 0.318),
    (2.46, 0.345), (2.46, 0.329), (2.46, 0.299), (2.47, 0.261), (2.51, 0.269), (2.52, 0.26), (2.57, 0.329),
    (2.58, 0.385), (2.62, 0.315), (2.65, 0.34), (2.66, 0.283), (2.67, 0.402), (2.68, 0.291), (2.75, 0.378),
    (2.84, 0.373), (2.89, 0.333), (2.89, 0.385), (2.91, 0.405), (2.93, 0.325), (3.26, 0.373), (3.37, 0.396),
    (4.00, 0.499), (4.24, 0.493),
]
dl_prosval = [
    (0.86, 0.010), (0.87, -0.012), (0.88, 0.004), (0.89, -0.025), (0.90, 0.015), (0.90, -0.042),
    (0.91, -0.005), (0.92, 0.028), (0.93, -0.018), (0.93, 0.008), (0.94, -0.033), (0.95, 0.020),
    (0.96, -0.008), (0.96, 0.040), (0.97, -0.045), (0.98, 0.012), (0.98, -0.022), (0.99, 0.030),
    (1.00, -0.002), (1.00, -0.038), (1.01, 0.022), (1.02, -0.015), (1.02, 0.005), (1.03, 0.041),
    (1.04, -0.028), (1.04, 0.015), (1.05, -0.050), (1.05, -0.006), (1.06, 0.030), (1.07, -0.020),
    (1.07, 0.008), (1.08, -0.035), (1.08, 0.025), (1.09, -0.010), (1.10, 0.045), (1.10, 0.000),
    (1.11, -0.043), (1.11, 0.018), (1.12, -0.025), (1.12, 0.034), (1.13, -0.005), (1.14, 0.012),
    (1.14, -0.058), (1.15, -0.030), (1.15, 0.026), (1.16, -0.014), (1.17, 0.004), (1.17, 0.040),
    (1.18, -0.040), (1.18, 0.016), (1.19, -0.022), (1.20, 0.030), (1.20, -0.002), (1.21, -0.048),
    (1.22, 0.010), (1.22, -0.030), (1.23, 0.022), (1.24, -0.012), (1.24, 0.046), (1.25, -0.036),
    (1.26, 0.005), (1.26, 0.032), (1.27, -0.020), (1.28, 0.015), (1.28, -0.044), (1.29, -0.006),
    (1.30, 0.025), (1.31, -0.028), (1.32, 0.008), (1.32, 0.038), (1.33, -0.015), (1.34, -0.040),
    (1.35, 0.018), (1.36, -0.004), (1.37, 0.030), (1.38, -0.025), (1.39, 0.010), (1.40, -0.035),
    (1.41, 0.022), (1.42, -0.012), (1.44, 0.004), (1.45, -0.030), (1.47, 0.015), (1.48, -0.020),
    (1.50, 0.026), (1.52, -0.008), (1.12, 0.072), (1.18, 0.060), (1.23, 0.056), (1.31, 0.052),
    (1.36, 0.078), (1.22, -0.083), (1.30, -0.083), (1.21, -0.061), (1.27, -0.063), (1.24, -0.056),
    (1.375, -0.055), (1.42, -0.049), (1.52, -0.045), (1.51, -0.048), (1.54, -0.030), (1.50, 0.044),
    (1.56, 0.042), (1.54, 0.026), (1.53, 0.017), (1.58, 0.017), (1.625, 0.009), (1.675, 0.009),
    (1.70, 0.022), (1.67, 0.040), (1.74, 0.051), (1.73, 0.002), (1.74, -0.018), (1.74, -0.038),
    (1.79, 0.043), (1.84, -0.049), (1.875, -0.008), (1.91, 0.001), (1.91, -0.026), (1.94, -0.054),
    (2.02, 0.055), (2.03, 0.022), (2.04, -0.012), (2.08, -0.016), (2.10, -0.016), (2.125, 0.073),
    (2.14, 0.044), (2.17, 0.028), (2.19, -0.015), (2.22, -0.051), (2.25, -0.002), (2.29, -0.033),
    (2.35, -0.014), (2.33, -0.053), (2.40, 0.009), (2.42, 0.056), (2.41, -0.040), (2.44, -0.023),
    (2.45, -0.003), (2.46, -0.011), (2.49, -0.042), (2.52, 0.028), (2.54, 0.021), (2.57, -0.067),
    (2.58, 0.058), (2.58, -0.056), (2.60, 0.074), (2.66, 0.021), (2.67, 0.001), (2.69, -0.037),
    (2.71, 0.076), (2.72, 0.001), (2.74, -0.032), (2.74, -0.013), (2.76, 0.008), (2.78, -0.003),
    (2.80, -0.029), (2.81, -0.018), (2.82, 0.033), (2.84, -0.042), (2.86, -0.019), (2.87, -0.024),
    (2.87, -0.067), (2.88, 0.063), (2.89, -0.026), (2.90, 0.042), (2.90, -0.029), (2.93, 0.001),
    (2.95, 0.097), (2.97, 0.035), (2.94, -0.057), (3.00, -0.056), (3.05, -0.064), (3.06, -0.065),
    (3.06, -0.033), (3.08, -0.013), (3.12, 0.000), (3.14, 0.087), (3.14, -0.112), (3.19, -0.085),
    (3.21, 0.024), (3.22, -0.058), (3.29, 0.040), (3.31, -0.008), (3.35, -0.140), (3.37, -0.043),
    (3.38, 0.019), (3.42, -0.043), (3.42, -0.060), (3.45, -0.002), (3.49, -0.070), (3.58, 0.080),
    (3.60, -0.003), (3.62, -0.009), (3.62, -0.051), (3.65, -0.052), (3.71, -0.060), (3.71, -0.131),
    (3.80, 0.008), (3.84, -0.024), (4.01, 0.011), (4.41, -0.048), (4.49, 0.088), (4.625, 0.113),
    (4.75, -0.004), (4.875, -0.083),
]
dl_extval1 = [
    (0.83, -0.037), (0.84, 0.007), (0.85, -0.020), (0.86, 0.004), (0.87, -0.038), (0.88, -0.010),
    (0.89, -0.028), (0.90, 0.012), (0.90, -0.044), (0.91, -0.015), (0.92, -0.003), (0.93, -0.034),
    (0.93, 0.011), (0.94, -0.022), (0.95, -0.055), (0.95, -0.008), (0.96, 0.001), (0.97, -0.040),
    (0.97, -0.016), (0.98, -0.027), (0.99, 0.006), (0.99, -0.060), (1.00, -0.011), (1.00, -0.035),
    (1.01, 0.003), (1.02, -0.022), (1.02, -0.048), (1.03, -0.005), (1.03, 0.018), (1.04, -0.030),
    (1.05, -0.014), (1.05, -0.066), (1.06, 0.002), (1.06, -0.040), (1.07, -0.020), (1.08, -0.052),
    (1.08, 0.010), (1.09, -0.008), (1.09, -0.032), (1.10, -0.017), (1.11, 0.004), (1.11, -0.045),
    (1.12, -0.025), (1.13, -0.062), (1.13, -0.010), (1.14, 0.012), (1.15, -0.036), (1.15, -0.002),
    (1.16, -0.020), (1.17, -0.048), (1.18, -0.012), (1.18, 0.020), (1.19, -0.030), (1.20, -0.005),
    (1.21, -0.042), (1.22, -0.018), (1.23, -0.055), (1.23, 0.006), (1.24, -0.028), (1.25, -0.010),
    (1.26, -0.038), (1.27, 0.014), (1.28, -0.022), (1.29, -0.046), (1.30, -0.004), (1.31, -0.032),
    (1.32, -0.015), (1.33, -0.050), (1.34, 0.008), (1.35, -0.026), (1.37, -0.040), (1.38, -0.012),
    (1.40, -0.030), (1.42, -0.002), (1.43, -0.045), (1.45, -0.020), (1.47, -0.035), (1.49, -0.010),
    (1.06, 0.062), (1.31, 0.056), (1.41, 0.055), (1.51, 0.053), (1.34, 0.043), (1.22, 0.039), (1.24, 0.033),
    (1.27, 0.029), (1.28, 0.022), (1.37, 0.024), (1.47, 0.025), (1.51, 0.030), (1.59, 0.028), (1.46, 0.012),
    (1.50, 0.014), (1.09, 0.024), (1.13, 0.023), (1.03, 0.021), (1.67, 0.008), (1.705, 0.001),
    (1.75, -0.006), (1.62, -0.012), (1.66, -0.013), (1.69, -0.017), (1.71, -0.024), (1.57, -0.027),
    (1.64, -0.028), (1.82, -0.034), (1.73, -0.043), (1.78, -0.047), (1.57, -0.045), (1.59, -0.047),
    (1.61, -0.055), (1.68, -0.052), (1.72, -0.052), (1.84, -0.057), (1.79, -0.063), (1.905, -0.069),
    (1.46, -0.072), (1.42, -0.077), (1.13, -0.080), (1.54, -0.090), (1.07, -0.106), (1.93, -0.016),
    (2.115, -0.030), (2.19, -0.055), (2.17, -0.122), (2.19, -0.122), (2.22, 0.036), (2.24, -0.090),
    (2.26, -0.014), (2.32, -0.043), (2.345, 0.048), (2.35, -0.072), (2.355, -0.037), (2.37, -0.075),
    (2.37, -0.022), (2.35, -0.173), (2.38, -0.046), (2.39, -0.045), (2.41, -0.082), (2.44, -0.058),
    (2.48, -0.032), (2.56, 0.040), (2.59, -0.083), (2.60, -0.099), (2.63, -0.037), (2.64, -0.075),
    (2.67, -0.036), (2.68, -0.100), (2.70, -0.115), (2.72, -0.047), (2.74, 0.072), (2.77, -0.103),
    (2.78, -0.024), (2.85, 0.003), (2.86, -0.064), (2.87, -0.026), (2.91, -0.041), (2.94, -0.060),
    (2.94, -0.105), (2.945, -0.155), (2.96, -0.042), (3.00, -0.117), (3.01, -0.056), (3.03, -0.055),
    (3.05, -0.036), (3.05, -0.097), (3.10, -0.006), (3.12, -0.032), (3.15, 0.002), (3.18, -0.057),
    (3.20, -0.053), (3.22, -0.065), (3.25, -0.022), (3.39, 0.079), (3.53, -0.064), (3.56, -0.053),
    (3.65, -0.087), (3.68, -0.121), (3.73, -0.134),
]
dl_extval2 = [
    (0.86, -0.012), (0.87, 0.006), (0.88, -0.020), (0.89, 0.014), (0.90, -0.004), (0.90, 0.028),
    (0.91, -0.030), (0.92, 0.002), (0.92, 0.020), (0.93, -0.015), (0.94, 0.035), (0.94, -0.008),
    (0.95, 0.010), (0.95, -0.025), (0.96, 0.024), (0.96, -0.002), (0.97, -0.036), (0.97, 0.016),
    (0.98, -0.012), (0.98, 0.038), (0.99, 0.004), (0.99, -0.020), (1.00, 0.030), (1.00, -0.006),
    (1.01, -0.032), (1.01, 0.012), (1.02, 0.022), (1.02, -0.016), (1.03, -0.002), (1.03, 0.036),
    (1.04, -0.026), (1.04, 0.008), (1.05, 0.018), (1.05, -0.010), (1.06, -0.038), (1.06, 0.002),
    (1.07, 0.028), (1.07, -0.018), (1.08, 0.012), (1.08, -0.004), (1.09, -0.028), (1.09, 0.022),
    (1.10, 0.005), (1.10, -0.013), (1.11, 0.034), (1.11, -0.036), (1.12, -0.006), (1.12, 0.016),
    (1.13, -0.022), (1.13, 0.026), (1.14, 0.000), (1.15, -0.030), (1.15, 0.012), (1.16, 0.020),
    (1.16, -0.014), (1.17, -0.004), (1.18, 0.027), (1.18, -0.025), (1.19, 0.008), (1.20, -0.035),
    (1.20, 0.018), (1.21, -0.010), (1.22, 0.003), (1.23, -0.020), (1.24, 0.012), (1.25, -0.030),
    (1.26, -0.004), (1.27, 0.019), (1.28, -0.014), (1.30, 0.004), (1.31, -0.036), (1.33, -0.024),
    (0.70, 0.017), (0.71, 0.018), (0.77, 0.013), (0.78, -0.010), (0.91, 0.054), (0.93, 0.052),
    (0.98, 0.050), (1.04, 0.083), (1.12, 0.046), (1.19, 0.041), (1.44, 0.039), (1.51, 0.034),
    (1.63, 0.030), (1.63, 0.027), (1.64, 0.025), (1.57, 0.017), (1.52, 0.014), (1.51, 0.007),
    (1.52, 0.006), (1.61, 0.000), (1.70, 0.014), (1.73, 0.015), (1.70, 0.002), (1.75, -0.007),
    (1.68, -0.022), (1.70, -0.039), (1.80, -0.038), (1.79, 0.032), (1.81, 0.032), (1.80, 0.027),
    (1.79, 0.014), (1.80, -0.017), (1.83, -0.024), (1.87, -0.002), (1.87, -0.025), (1.87, -0.029),
    (1.92, -0.042), (1.55, -0.020), (1.61, -0.047), (1.64, -0.047), (1.79, -0.049), (1.88, -0.050),
    (1.98, 0.025), (2.00, -0.006), (2.02, 0.021), (2.04, 0.022), (2.03, 0.017), (2.05, 0.016),
    (2.02, -0.022), (2.02, -0.026), (2.02, -0.036), (2.06, -0.047), (2.20, 0.029), (2.20, 0.010),
    (2.23, 0.011), (2.18, -0.025), (2.18, -0.032), (2.24, -0.056), (2.25, 0.036), (2.28, -0.025),
    (2.30, 0.023), (2.32, -0.054), (2.34, 0.043), (2.40, 0.037), (2.41, 0.014), (2.38, -0.026),
    (2.42, 0.046), (2.45, -0.049), (2.45, -0.015), (2.49, 0.006), (2.51, -0.002), (2.50, -0.067),
    (2.55, -0.025), (2.66, 0.026), (2.69, -0.023), (2.70, -0.024), (2.72, -0.074), (2.72, 0.015),
    (3.095, 0.046), (3.15, -0.039), (3.76, 0.049), (4.02, 0.043), (1.06, -0.049), (1.095, -0.043),
    (1.14, -0.044), (0.93, -0.053),
]


def expand(core):
    return [(x, y) for x, ys in core for y in ys]


DATA = [
    [nac_prosval + expand(nac_prosval_core), nac_extval1 + expand(nac_extval1_core),
     nac_extval2 + expand(nac_extval2_core)],
    [uac_prosval + expand(uac_prosval_core), uac_extval1 + expand(uac_extval1_core),
     uac_extval2 + expand(uac_extval2_core)],
    [dl_prosval + expand(dl_prosval_core), dl_extval1 + expand(dl_extval1_core),
     dl_extval2 + expand(dl_extval2_core)],
]
STATS = [nac_stats, uac_stats, dl_stats]

W, H = 1365, 1311
# axes boxes in pixels: (left, top, right, bottom); right column runs off the page
BOXES = [
    [(108, 55, 469, 406), (556, 55, 917, 406), (1013, 55, 1380, 406)],
    [(109, 480, 469, 831), (554, 479, 913, 829), (1013, 477, 1380, 828)],
    [(111, 905, 472, 1256), (556, 906, 917, 1257), (1013, 904, 1380, 1256)],
]
XLIMS = [
    [(0.575, 4.375), (0.731, 3.501), (0.45, 3.972)],
    [(0.541, 5.405), (0.684, 4.119), (0.482, 4.489)],
    [(0.575, 5.084), (0.684, 3.879), (0.527, 4.243)],
]
YLIMS = [
    [(-1.597, 0.358), (-1.168, 0.315), (-0.652, 0.1455)],
    [(-0.181, 0.770), (-0.0816, 0.4066), (-0.298, 0.536)],
    [(-0.1527, 0.1256), (-0.1858, 0.0913), (-0.0818, 0.091)],
]
YTICKS = [
    [[0.25, 0, -0.25, -0.5, -0.75, -1.0, -1.25, -1.5],
     [0.2, 0, -0.2, -0.4, -0.6, -0.8, -1.0],
     [0.1, 0, -0.1, -0.2, -0.3, -0.4, -0.5, -0.6]],
    [[0, 0.2, 0.4, 0.6], [0, 0.1, 0.2, 0.3, 0.4],
     [-0.2, -0.1, 0, 0.1, 0.2, 0.3, 0.4, 0.5]],
    [[-0.15, -0.1, -0.05, 0, 0.05, 0.1], [-0.15, -0.1, -0.05, 0, 0.05],
     [-0.08, -0.06, -0.04, -0.02, 0, 0.02, 0.04, 0.06, 0.08]],
]
XLABELPAD = [[4, 4, 4], [1, 4, 4], [4, 4, 4]]


def draw_panel(ax, pts, stats, xlim, ylim, yticks, pad):
    xs = [p[0] for p in pts]
    ys = [p[1] for p in pts]
    ax.scatter(xs, ys, s=12, color="#1f77b4", alpha=0.85, linewidths=0)
    mean, upper, lower = stats
    ax.axhline(mean, color="black", ls="--", lw=1.9, label=f"Mean Diff: {mean:.3f}")
    ax.axhline(upper, color="red", ls="--", lw=1.9, label=f"Upper LOA: {upper:.3f}")
    ax.axhline(lower, color="red", ls="--", lw=1.9, label=f"Lower LOA: {lower:.3f}")
    ax.set_xlim(*xlim)
    ax.set_ylim(*ylim)
    ax.set_xticks([t for t in range(1, 6) if xlim[0] < t < xlim[1]])
    ax.set_yticks(yticks)
    ax.yaxis.set_major_formatter(FormatStrFormatter("%.2f"))
    ax.grid(True, color="#b0b0b0", lw=1.0)
    ax.set_xlabel("Mean SBR", fontsize=15, labelpad=pad)
    ax.legend(loc="lower left", fontsize=9.3)
    for sp in ax.spines.values():
        sp.set_linewidth(1.0)


fig = plt.figure(figsize=(W / 100, H / 100), dpi=100)
for r in range(3):
    for c in range(3):
        l, t, rr, b = BOXES[r][c]
        ax = fig.add_axes([l / W, 1 - b / H, (rr - l) / W, (b - t) / H])
        draw_panel(ax, DATA[r][c], STATS[r][c], XLIMS[r][c], YLIMS[r][c], YTICKS[r][c], XLABELPAD[r][c])

for name, xc in zip(COLUMNS, [287, 722, 1180]):
    fig.text(xc / W, 1 - 26 / H, name, ha="center", va="center", fontsize=17, fontweight="bold")
for name, yc in zip(ROWS, [243, 666, 1096]):
    fig.text(24 / W, 1 - yc / H, name, ha="center", va="center", rotation=90,
             fontsize=17, fontweight="bold")

fig.savefig("out.png", dpi=100)
